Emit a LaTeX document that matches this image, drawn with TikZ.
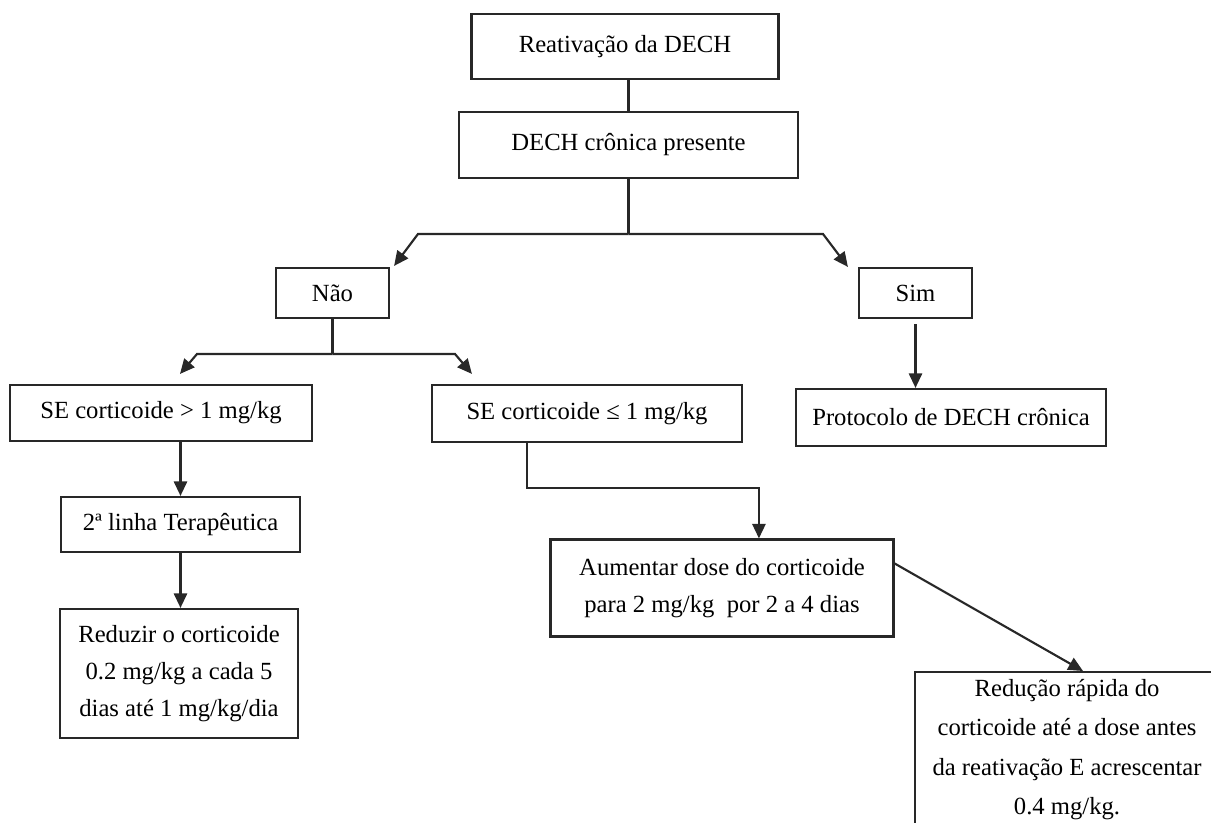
\documentclass[tikz,border=0pt]{standalone}
\usepackage{fontspec}
\setmainfont{Liberation Serif}
\usetikzlibrary{arrows.meta,calc}
\definecolor{lnc}{RGB}{40,40,40}
\begin{document}
\begin{tikzpicture}[x=0.75pt,y=-0.75pt,
  bx/.style 2 args={draw=lnc, line width=1.6pt, minimum width=#1*0.75pt, minimum height=#2*0.75pt, inner sep=0pt, align=center, font=\fontsize{18.5}{27.5}\selectfont},
  lnk/.style={draw=lnc, line width=1.6pt},
  arr/.style={lnk, -{Triangle[length=11pt,width=10pt]}},
  ]
\useasboundingbox (0,0) rectangle (1211,823);
% nodes
\node[bx={307}{65}] (r1) at (625,46.5) {Reativação da DECH};
\node[bx={339}{66}] (r2) at (628.5,145) {DECH crônica presente};
\node[bx={113}{50}] (nao) at (332.5,293) {Não};
\node[bx={113}{50}] (sim) at (915.5,293) {Sim};
\node[bx={302}{56}] (se1) at (161,413) {SE corticoide > 1 mg/kg};
\node[bx={310}{57}] (se2) at (587,413.5) {SE corticoide ≤ 1 mg/kg};
\node[bx={310}{57}] (prot) at (951,417.5) {Protocolo de DECH crônica};
\node[bx={239}{55}] (lin) at (180.5,524.5) {2ª linha Terapêutica};
\node[bx={238}{129}] (red) at (179,673.5) {Reduzir o corticoide\\0.2 mg/kg a cada 5\\dias até 1 mg/kg/dia};
\node[bx={343}{97}] (aum) at (722,588) {Aumentar dose do corticoide\\para 2 mg/kg\ \ por 2 a 4 dias};
\node[draw=lnc, line width=1.6pt, anchor=north west, minimum width=304*0.75pt, inner xsep=0pt, inner ysep=5.5pt, align=center, font=\fontsize{18.5}{29.5}\selectfont] (rap) at (914,671) {Redução rápida do\\corticoide até a dose antes\\da reativação E acrescentar\\0.4 mg/kg.\\[20pt]~};
% coordinates
\coordinate (j1) at (627,234);
\coordinate (b1) at (418,234);
\coordinate (b2) at (823,234);
\coordinate (j2) at (332.5,354);
\coordinate (b3) at (197,354);
\coordinate (b4) at (455,354);
\coordinate (s2a) at ($(se2.south west)+(96,0)$);
\coordinate (aumt) at ($(aum.north west)+(209.5,0)$);
% connectors
\draw[lnk] (r2.north |- r1.south) -- (r2.north);
\draw[lnk] (r2.south) -- (r2.south |- j1);
\draw[arr] (r2.south |- j1) -- (b1) -- ($(nao.north east)+(4,-1)$);
\draw[arr] (r2.south |- j1) -- (b2) -- ($(sim.north west)+(-10,0)$);
\draw[lnk] (nao.south) -- (j2);
\draw[arr] (j2) -- (b3) -- ($(se1.north)+(19,-10)$);
\draw[arr] (j2) -- (b4) -- ($(se2.north west)+(41,-10)$);
\draw[arr] (lin.north |- se1.south) -- (lin.north);
\draw[arr] (lin.south) -- (lin.south |- red.north);
\draw[arr] (s2a) -- ++(0,45) -| (aumt);
\draw[arr] ($(sim.south)+(0,5)$) -- (sim.south |- prot.north);
\draw[arr] ($(aum.north east)+(0,25)$) -- ($(rap.north west)+(169,0)$);
\end{tikzpicture}
\end{document}
